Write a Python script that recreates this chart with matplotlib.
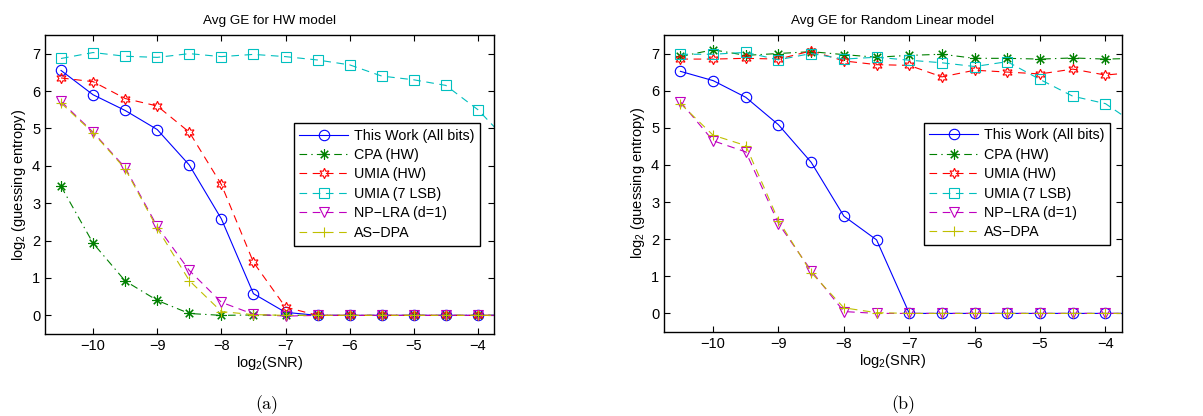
import numpy as np
import matplotlib
matplotlib.use('Agg')
import matplotlib.pyplot as plt

plt.rcParams['font.family'] = ['Liberation Sans', 'DejaVu Sans']
plt.rcParams['mathtext.fontset'] = 'custom'
plt.rcParams['mathtext.rm'] = 'Liberation Sans'
plt.rcParams['mathtext.default'] = 'rm'
plt.rcParams['lines.scale_dashes'] = False

# SNR grid (log2), last point lies just past the right edge
snr = [-10.5, -10, -9.5, -9, -8.5, -8, -7.5, -7, -6.5, -6, -5.5, -5, -4.5, -4, -3.5]

# Avg GE, HW leakage model
hw_this = [6.55, 5.9, 5.48, 4.97, 4.02, 2.58, 0.58, 0.08, 0, 0, 0, 0, 0, 0, 0]
hw_cpa = [3.45, 1.93, 0.92, 0.4, 0.05, 0.0, 0.01, 0, 0, 0, 0, 0, 0, 0, 0]
hw_umia = [6.35, 6.25, 5.8, 5.6, 4.9, 3.5, 1.42, 0.22, 0, 0, 0, 0, 0, 0, 0]
hw_umia7 = [6.87, 7.03, 6.93, 6.9, 7.0, 6.92, 6.98, 6.92, 6.83, 6.7, 6.4, 6.3, 6.15, 5.5, 4.6]
hw_nplra = [5.72, 4.9, 3.95, 2.38, 1.2, 0.35, 0.03, -0.02, 0, 0, 0, 0, 0, 0, 0]
hw_asdpa = [5.68, 4.88, 3.92, 2.33, 0.93, 0.1, 0.02, 0, 0, 0, 0, 0, 0, 0, 0]

# Avg GE, random linear leakage model
rl_this = [6.52, 6.27, 5.82, 5.08, 4.07, 2.62, 1.98, 0, 0, 0, 0, 0, 0, 0, 0]
rl_cpa = [6.92, 7.1, 6.95, 7.0, 7.05, 6.97, 6.9, 6.95, 6.98, 6.87, 6.87, 6.85, 6.88, 6.85, 6.87]
rl_umia = [6.85, 6.85, 6.87, 6.85, 7.07, 6.8, 6.7, 6.68, 6.37, 6.55, 6.5, 6.45, 6.58, 6.42, 6.5]
rl_umia7 = [6.98, 6.98, 7.03, 6.83, 7.0, 6.85, 6.9, 6.82, 6.75, 6.65, 6.78, 6.3, 5.85, 5.65, 5.05]
rl_nplra = [5.7, 4.65, 4.35, 2.42, 1.15, 0.05, 0.0, 0, 0, 0, 0, 0, 0, 0, 0]
rl_asdpa = [5.65, 4.8, 4.52, 2.5, 1.1, 0.15, 0.02, 0, 0, 0, 0, 0, 0, 0, 0]

labels = ['This Work (All bits)', 'CPA (HW)', 'UMIA (HW)', 'UMIA (7 LSB)', 'NP\u2212LRA (d=1)', 'AS\u2212DPA']
colors = [(0, 0, 1), (0, 0.5, 0), (1, 0, 0), (0, 0.75, 0.75), (0.75, 0, 0.75), (0.75, 0.75, 0)]
markers = ['o', (8, 2, 0), (6, 1, 0), 's', 'v', '+']
dash = (0, (5.5, 4))
styles = ['-', (0, (5.5, 3, 1, 3)), dash, dash, dash, dash]

fig = plt.figure(figsize=(12.03, 4.16), dpi=100)
ax1 = fig.add_axes([0.0374, 0.197, 0.3732, 0.719])
ax2 = fig.add_axes([0.552, 0.202, 0.3805, 0.714])


def draw(ax, series, title, anchor):
    for y, lab, c, m, ls in zip(series, labels, colors, markers, styles):
        ax.plot(snr, y, linestyle=ls, color=c, marker=m, markersize=7.5,
                markerfacecolor='none', markeredgecolor=c, markeredgewidth=0.8,
                linewidth=0.8, label=lab)
    ax.set_xlim(-10.75, -3.75)
    ax.set_ylim(-0.5, 7.5)
    ax.set_xticks([-10, -9, -8, -7, -6, -5, -4])
    ax.set_yticks(range(0, 8))
    ax.tick_params(direction='in', top=True, right=True, length=4, width=0.8, labelsize=10.5)
    for sp in ax.spines.values():
        sp.set_linewidth(1.0)
    ax.set_title(title, fontsize=9.7, pad=8)
    ax.set_xlabel('log$_2$(SNR)', fontsize=10.5, labelpad=1)
    ax.set_ylabel('log$_2$ (guessing entropy)', fontsize=10.5, labelpad=3)
    leg = ax.legend(loc='upper right', bbox_to_anchor=anchor, fontsize=10.3,
                    fancybox=False, framealpha=1, edgecolor='black',
                    handlelength=3.4, handletextpad=0.4, borderaxespad=0,
                    labelspacing=0.38)
    leg.get_frame().set_linewidth(1.0)


draw(ax1, [hw_this, hw_cpa, hw_umia, hw_umia7, hw_nplra, hw_asdpa],
     'Avg GE for HW model', (0.969, 0.706))
draw(ax2, [rl_this, rl_cpa, rl_umia, rl_umia7, rl_nplra, rl_asdpa],
     'Avg GE for Random Linear model', (0.974, 0.705))

fig.text(267 / 1203, 1 - 405 / 416, '(a)', fontfamily='cmr10', fontsize=13, ha='center', va='center')
fig.text(903 / 1203, 1 - 405 / 416, '(b)', fontfamily='cmr10', fontsize=13, ha='center', va='center')

fig.savefig('out.png', dpi=100)
